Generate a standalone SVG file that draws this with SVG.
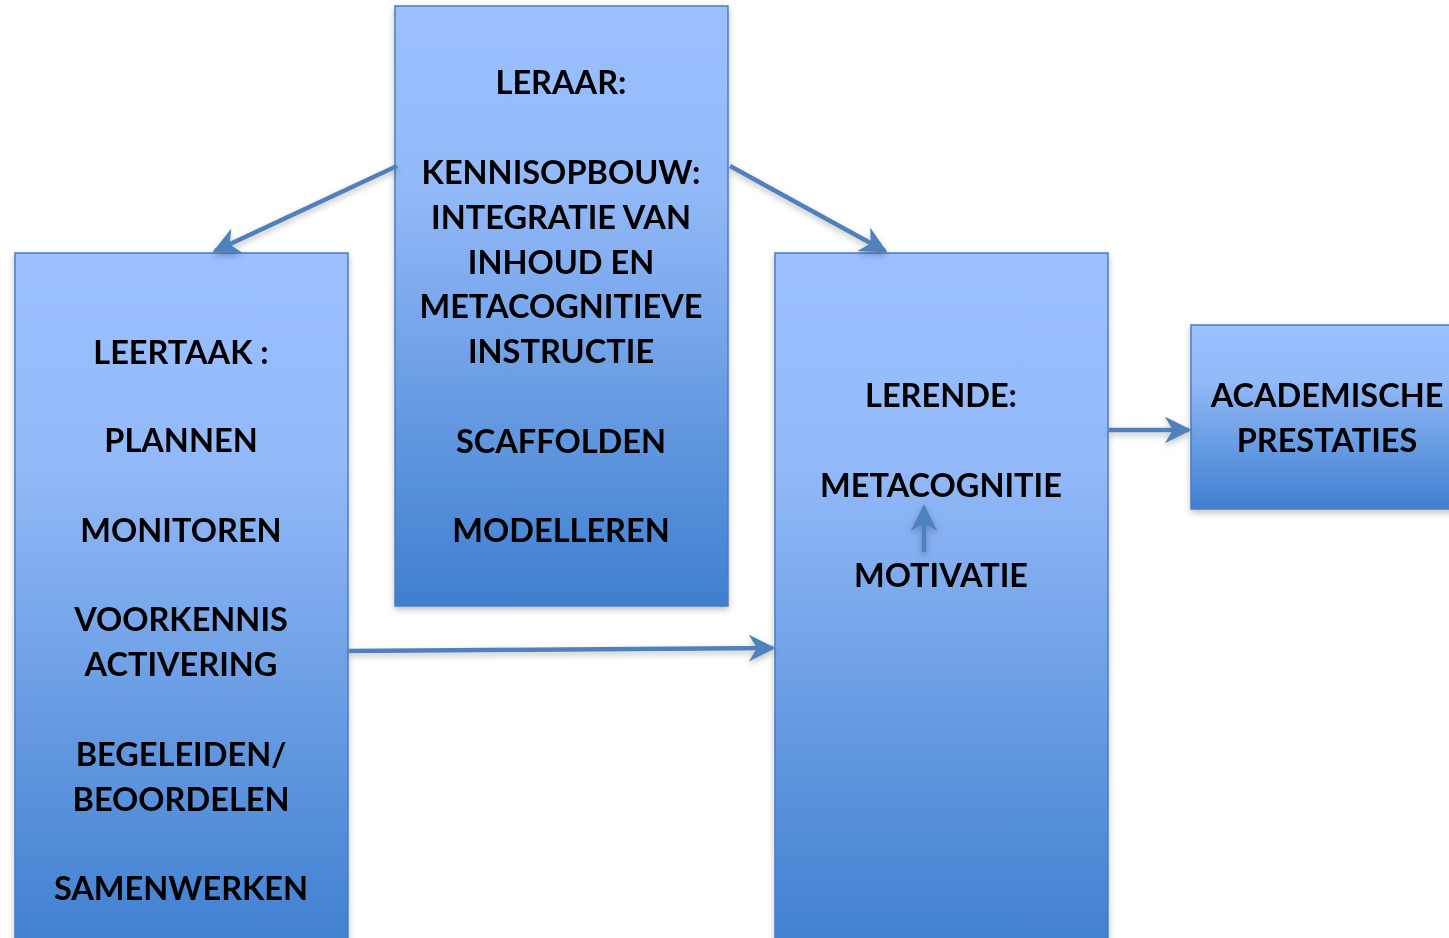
<svg xmlns="http://www.w3.org/2000/svg" width="1449" height="938" viewBox="0 0 1449 938">
<style>
.box{fill:url(#g);stroke:#4A7EBB;stroke-width:1.5}
.t{font-family:Lato,"Liberation Sans",sans-serif;font-weight:700;font-size:32.5px;fill:#000;text-anchor:middle}
.c{stroke:#4F81BD;stroke-width:4.5;fill:none;marker-end:url(#ah)}
</style>
<defs>
<linearGradient id="g" x1="0" y1="0" x2="0" y2="1">
<stop offset="0" stop-color="#9CC0FF"/>
<stop offset="0.3" stop-color="#93B9F8"/>
<stop offset="1" stop-color="#3F7FCF"/>
</linearGradient>
<marker id="ah" viewBox="0 0 10 10" refX="9" refY="5" markerWidth="6" markerHeight="6" orient="auto" markerUnits="strokeWidth">
<path d="M0,0 L10,5 L0,10 L3,5 z" fill="#4F81BD"/>
</marker>
<filter id="sh" x="-10%" y="-10%" width="130%" height="130%">
<feDropShadow dx="0" dy="3" stdDeviation="3" flood-color="#000" flood-opacity="0.25"/>
</filter>
</defs>
<rect width="1449" height="938" fill="#fff"/>
<g id="leraar" filter="url(#sh)">
<rect class="box" x="395" y="6" width="333" height="600"/>
<text class="t" x="561" y="94">LERAAR:</text>
<text class="t" x="561" y="184">KENNISOPBOUW:</text>
<text class="t" x="561" y="229">INTEGRATIE VAN</text>
<text class="t" x="561" y="274">INHOUD EN</text>
<text class="t" x="561" y="318">METACOGNITIEVE</text>
<text class="t" x="561" y="363">INSTRUCTIE</text>
<text class="t" x="561" y="453">SCAFFOLDEN</text>
<text class="t" x="561" y="542">MODELLEREN</text>
</g>
<g id="leertaak" filter="url(#sh)">
<rect class="box" x="15" y="253" width="333" height="700"/>
<text class="t" x="181" y="364">LEERTAAK :</text>
<text class="t" x="181" y="452">PLANNEN</text>
<text class="t" x="181" y="542">MONITOREN</text>
<text class="t" x="181" y="631">VOORKENNIS</text>
<text class="t" x="181" y="676">ACTIVERING</text>
<text class="t" x="181" y="766">BEGELEIDEN/</text>
<text class="t" x="181" y="811">BEOORDELEN</text>
<text class="t" x="181" y="900">SAMENWERKEN</text>
</g>
<g id="lerende" filter="url(#sh)">
<rect class="box" x="775" y="253" width="333" height="700"/>
<text class="t" x="941" y="407">LERENDE:</text>
<text class="t" x="941" y="497">METACOGNITIE</text>
<text class="t" x="941" y="587">MOTIVATIE</text>
</g>
<g id="academische" filter="url(#sh)">
<rect class="box" x="1191" y="325" width="270" height="184"/>
<text class="t" x="1327" y="407">ACADEMISCHE</text>
<text class="t" x="1327" y="452">PRESTATIES</text>
</g>
<g id="connectors" filter="url(#sh)">
<line class="c" x1="397" y1="166" x2="215" y2="251"/>
<line class="c" x1="730" y1="166" x2="885" y2="251"/>
<line class="c" x1="1109" y1="430" x2="1189" y2="430"/>
<line class="c" x1="349" y1="651" x2="773" y2="648"/>
<line class="c" x1="924" y1="552" x2="924" y2="507"/>
</g>
</svg>
